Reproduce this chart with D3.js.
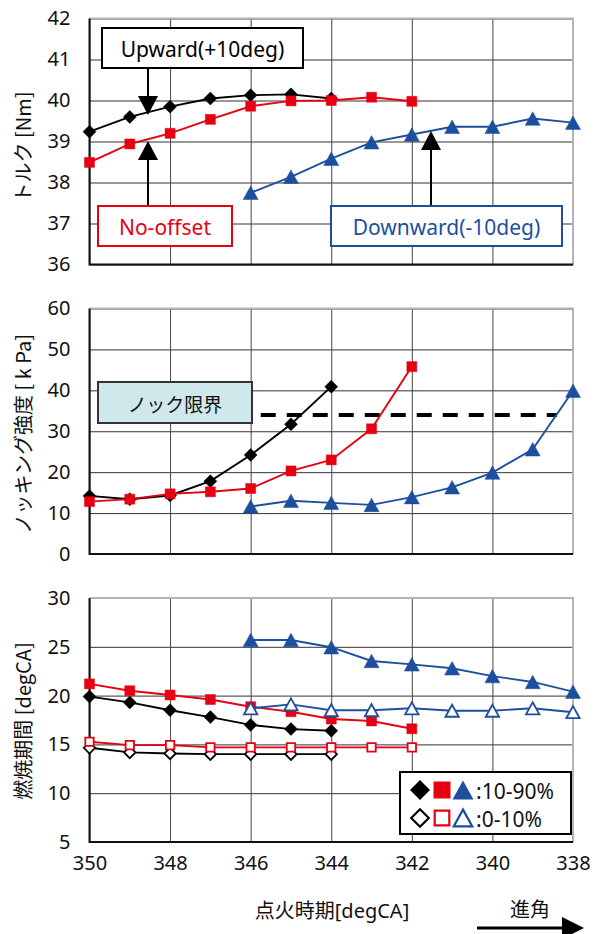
<!DOCTYPE html>
<html><head><meta charset="utf-8">
<script src="https://cdn.jsdelivr.net/npm/d3@7"></script>
<style>
html,body{margin:0;padding:0;background:#fff;}
svg{display:block;font-family:"Noto Sans","Noto Sans CJK JP",sans-serif;}
</style></head><body>
<svg id="chart" width="597" height="934"></svg>
<script>
// Ignition timing [degCA] swept for each offset condition
const timingUp   = [350, 349, 348, 347, 346, 345, 344];
const timingNo   = [350, 349, 348, 347, 346, 345, 344, 343, 342];
const timingDown = [346, 345, 344, 343, 342, 341, 340, 339, 338];
const xTicks = [350, 348, 346, 344, 342, 340, 338];

// Torque [Nm]
const torqueUp   = [39.24, 39.6, 39.85, 40.05, 40.13, 40.15, 40.05];
const torqueNo   = [38.49, 38.94, 39.2, 39.54, 39.86, 39.99, 40.0, 40.08, 39.98];
const torqueDown = [37.75, 38.14, 38.58, 38.98, 39.17, 39.36, 39.36, 39.56, 39.46];
const torqueTicks = [36, 37, 38, 39, 40, 41, 42];

// Knock intensity [kPa]
const knockUp   = [14.2, 13.4, 14.3, 17.8, 24.2, 31.7, 40.9];
const knockNo   = [12.8, 13.4, 14.7, 15.2, 16.0, 20.3, 23.0, 30.6, 45.8];
const knockDown = [11.6, 13.0, 12.5, 12.0, 13.9, 16.3, 19.9, 25.6, 39.9];
const knockTicks = [0, 10, 20, 30, 40, 50, 60];
const knockLimit = 34;
const knockLimitSpan = [345.75, 338.4];

// Combustion duration [degCA]: 10-90% and 0-10% mass fraction burned
const burn1090Up   = [19.9, 19.3, 18.5, 17.8, 17.0, 16.57, 16.4];
const burn1090No   = [21.2, 20.5, 20.06, 19.6, 18.86, 18.35, 17.6, 17.4, 16.6];
const burn1090Down = [25.7, 25.7, 24.96, 23.55, 23.2, 22.8, 22.0, 21.4, 20.4];
const burn010Up    = [14.65, 14.18, 14.07, 14.0, 14.0, 14.0, 14.0];
const burn010No    = [15.27, 14.93, 14.93, 14.7, 14.7, 14.7, 14.7, 14.7, 14.7];
const burn010Down  = [18.7, 19.1, 18.5, 18.5, 18.7, 18.45, 18.45, 18.7, 18.3];
const burnTicks = [5, 10, 15, 20, 25, 30];

const RED = "#e60012", BLUE = "#1d4f9e", BLACK = "#000";
const FONT = 20;

const svg = d3.select("#chart");
const x = d3.scaleLinear().domain([350, 338]).range([89.5, 573]);

// marker shapes
const shapes = {
  diamond: r => `M0,${-r}L${r},0L0,${r}L${-r},0Z`,
  square: r => `M${-r},${-r}h${2*r}v${2*r}h${-2*r}Z`,
  triangle: r => `M0,${-r*0.9}L${r},${r*0.9}L${-r},${r*0.9}Z`
};
const sizes = { diamond: 6.5, square: 5, triangle: 7.5 };

function panel(cfg) {
  const y = d3.scaleLinear().domain(cfg.domain).range(cfg.range);
  const g = svg.append("g");
  const [x0, x1] = x.range();
  const [yb, yt] = cfg.range;

  // horizontal grid
  g.append("g").attr("transform", `translate(${x0},0)`)
    .call(d3.axisLeft(y).tickValues(cfg.ticks).tickSize(-(x1 - x0)).tickFormat(""))
    .call(a => a.select(".domain").remove())
    .call(a => a.selectAll("line").attr("stroke", "#333").attr("stroke-width", 1));
  // vertical grid
  g.append("g").attr("transform", `translate(0,${yb})`)
    .call(d3.axisBottom(x).tickValues(xTicks).tickSize(-(yb - yt)).tickFormat(""))
    .call(a => a.select(".domain").remove())
    .call(a => a.selectAll("line").attr("stroke", "#444").attr("stroke-width", 1));

  // frame: light top/right, dark left/bottom
  g.append("path").attr("d", `M${x0},${yt}H${x1}V${yb}`)
    .attr("fill", "none").attr("stroke", "#b4b4b4").attr("stroke-width", 2);
  g.append("path").attr("d", `M${x0},${yt}V${yb}H${x1}`)
    .attr("fill", "none").attr("stroke", "#111").attr("stroke-width", 2);

  // y tick labels
  g.append("g").attr("transform", `translate(${x0},0)`)
    .call(d3.axisLeft(y).tickValues(cfg.ticks).tickSize(0).tickPadding(19).tickFormat(d3.format("d")))
    .call(a => a.select(".domain").remove())
    .call(a => a.selectAll("text").attr("font-size", FONT).attr("fill", "#111")
      .attr("font-family", '"Noto Sans", sans-serif'));

  // y title
  g.append("text")
    .attr("transform", `translate(22,${cfg.titleY}) rotate(-90)`)
    .attr("text-anchor", "middle").attr("dominant-baseline", "central")
    .attr("font-size", FONT).attr("fill", "#111")
    .attr("font-family", '"Noto Sans CJK JP", sans-serif')
    .text(cfg.title);

  if (cfg.before) cfg.before(g, y);

  const line = d3.line().x(d => x(d[0])).y(d => y(d[1]));
  cfg.series.forEach(s => {
    const pts = s.xs.map((t, i) => [t, s.ys[i]]);
    g.append("path").datum(pts).attr("d", line)
      .attr("fill", "none").attr("stroke", s.color).attr("stroke-width", 1.9);
    g.selectAll(null).data(pts).join("path")
      .attr("transform", d => `translate(${x(d[0])},${y(d[1])})`)
      .attr("d", shapes[s.shape](sizes[s.shape] - (s.hollow ? 0.8 : 0)))
      .attr("fill", s.hollow ? "#fff" : s.color)
      .attr("stroke", s.color).attr("stroke-width", s.hollow ? 1.8 : 0.5);
  });
  return { g, y };
}

// ---- torque ----
const torquePanel = panel({
  domain: [36, 42], range: [264.5, 18.5], ticks: torqueTicks,
  title: "トルク [Nm]", titleY: 147,
  series: [
    { xs: timingUp, ys: torqueUp, color: BLACK, shape: "diamond" },
    { xs: timingNo, ys: torqueNo, color: RED, shape: "square" },
    { xs: timingDown, ys: torqueDown, color: BLUE, shape: "triangle" }
  ]
});

function labelBox(g, x0, y0, w, h, text, color) {
  g.append("rect").attr("x", x0).attr("y", y0).attr("width", w).attr("height", h)
    .attr("fill", "#fff").attr("stroke", color).attr("stroke-width", 2);
  g.append("text").attr("x", x0 + w / 2).attr("y", y0 + h / 2 + 1)
    .attr("text-anchor", "middle").attr("dominant-baseline", "central")
    .attr("font-size", 21).attr("fill", color).text(text);
}
function arrow(g, ax, yFrom, yTip) {
  const dir = yTip > yFrom ? 1 : -1;
  const base = yTip - dir * 19;
  g.append("line").attr("x1", ax).attr("x2", ax).attr("y1", yFrom).attr("y2", base)
    .attr("stroke", "#000").attr("stroke-width", 2);
  g.append("path").attr("d", `M${ax - 10},${base}L${ax + 10},${base}L${ax},${yTip}Z`).attr("fill", "#000");
}

arrow(torquePanel.g, 148, 68, 115);
labelBox(torquePanel.g, 102, 28, 201, 40, "Upward(+10deg)", "#000");
arrow(torquePanel.g, 148, 206, 141);
labelBox(torquePanel.g, 98, 206, 134, 40, "No-offset", RED);
arrow(torquePanel.g, 431, 206, 131);
labelBox(torquePanel.g, 331, 206, 231, 40, "Downward(-10deg)", BLUE);

// ---- knock intensity ----
const knockPanel = panel({
  domain: [0, 60], range: [554, 308.5], ticks: knockTicks,
  title: "ノッキング強度 [ k Pa]", titleY: 434,
  before: (g, y) => {
    g.append("line")
      .attr("x1", x(knockLimitSpan[0])).attr("x2", x(knockLimitSpan[1]))
      .attr("y1", y(knockLimit)).attr("y2", y(knockLimit))
      .attr("stroke", "#000").attr("stroke-width", 4).attr("stroke-dasharray", "15 11");
  },
  series: [
    { xs: timingUp, ys: knockUp, color: BLACK, shape: "diamond" },
    { xs: timingNo, ys: knockNo, color: RED, shape: "square" },
    { xs: timingDown, ys: knockDown, color: BLUE, shape: "triangle" }
  ]
});
knockPanel.g.append("rect").attr("x", 98).attr("y", 382).attr("width", 154).attr("height", 41)
  .attr("fill", "#cfe8ec").attr("stroke", "#333").attr("stroke-width", 2);
knockPanel.g.append("text").attr("x", 175).attr("y", 403).attr("text-anchor", "middle")
  .attr("dominant-baseline", "central").attr("font-size", 19).attr("fill", "#111")
  .attr("font-family", '"Noto Sans CJK JP", sans-serif').text("ノック限界");

// ---- combustion duration ----
const burnPanel = panel({
  domain: [5, 30], range: [842, 598], ticks: burnTicks,
  title: "燃焼期間 [degCA]", titleY: 721,
  series: [
    { xs: timingUp, ys: burn1090Up, color: BLACK, shape: "diamond" },
    { xs: timingNo, ys: burn1090No, color: RED, shape: "square" },
    { xs: timingDown, ys: burn1090Down, color: BLUE, shape: "triangle" },
    { xs: timingUp, ys: burn010Up, color: BLACK, shape: "diamond", hollow: true },
    { xs: timingNo, ys: burn010No, color: RED, shape: "square", hollow: true },
    { xs: timingDown, ys: burn010Down, color: BLUE, shape: "triangle", hollow: true }
  ]
});

// x tick labels
svg.append("g").attr("transform", "translate(0,842)")
  .call(d3.axisBottom(x).tickValues(xTicks).tickSize(0).tickPadding(14).tickFormat(d3.format("d")))
  .call(a => a.select(".domain").remove())
  .call(a => a.selectAll("text").attr("font-size", FONT).attr("fill", "#111")
    .attr("font-family", '"Noto Sans", sans-serif'));

// legend
const lg = svg.append("g");
lg.append("rect").attr("x", 400).attr("y", 772).attr("width", 171).attr("height", 62)
  .attr("fill", "#fff").attr("stroke", "#000").attr("stroke-width", 2);
const legendRows = [
  { y: 790, hollow: false, label: ":10-90%" },
  { y: 818, hollow: true, label: ":0-10%" }
];
const legendMarks = [
  { x: 420, shape: "diamond", color: BLACK, r: 10 },
  { x: 442, shape: "square", color: RED, r: 8.5 },
  { x: 463, shape: "triangle", color: BLUE, r: 10.5 }
];
legendRows.forEach(row => {
  legendMarks.forEach(m => {
    lg.append("path").attr("transform", `translate(${m.x},${row.y})`)
      .attr("d", shapes[m.shape](row.hollow ? m.r - 1.2 : m.r))
      .attr("fill", row.hollow ? "#fff" : m.color)
      .attr("stroke", m.color).attr("stroke-width", row.hollow ? 2.2 : 0);
  });
  lg.append("text").attr("x", 476).attr("y", row.y + 1).attr("dominant-baseline", "central")
    .attr("font-size", 21).attr("fill", "#111").text(row.label);
});

// x-axis title and advance arrow
svg.append("text").attr("x", 332).attr("y", 910).attr("text-anchor", "middle")
  .attr("dominant-baseline", "central").attr("font-size", FONT).attr("fill", "#111")
  .text("点火時期[degCA]");
svg.append("text").attr("x", 530).attr("y", 908).attr("text-anchor", "middle")
  .attr("dominant-baseline", "central").attr("font-size", FONT).attr("fill", "#111")
  .attr("font-family", '"Noto Sans CJK JP", sans-serif').text("進角");
svg.append("line").attr("x1", 477).attr("x2", 564).attr("y1", 928).attr("y2", 928)
  .attr("stroke", "#000").attr("stroke-width", 3);
svg.append("path").attr("d", "M562,917L584,928L562,939Z").attr("fill", "#000");
</script>
</body></html>
